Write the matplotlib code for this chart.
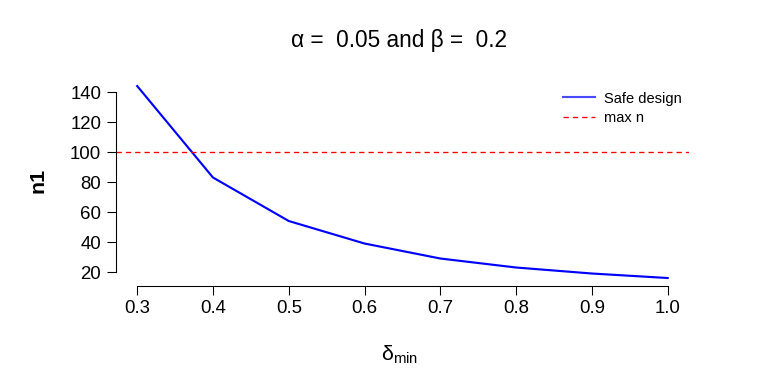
import numpy as np
from matplotlib import pyplot as plt

plt.rcParams['font.family'] = ['Liberation Sans', 'DejaVu Sans']
plt.rcParams['mathtext.fontset'] = 'custom'
plt.rcParams['mathtext.rm'] = 'Liberation Sans'
plt.rcParams['mathtext.it'] = 'Liberation Sans:italic'

# data
delta_min = [0.3, 0.4, 0.5, 0.6, 0.7, 0.8, 0.9, 1.0]
n1 = [144, 83, 54, 39, 29, 23, 19, 16]
max_n = 100
x_ticks = [0.3, 0.4, 0.5, 0.6, 0.7, 0.8, 0.9, 1.0]
y_ticks = [20, 40, 60, 80, 100, 120, 140]

fig = plt.figure(figsize=(8, 4), dpi=96)
ax = fig.add_axes([0.151, 0.256, 0.746, 0.54])

ax.plot(delta_min, n1, color='blue', lw=1.6, label='Safe design')
ax.axhline(max_n, color='red', lw=1, ls=(0, (4, 3)), label='max n')

# R-like padding of 4%
xr = max(delta_min) - min(delta_min)
yr = max(n1) - min(n1)
ax.set_xlim(min(delta_min) - 0.04 * xr, max(delta_min) + 0.04 * xr)
ax.set_ylim(min(n1) - 0.04 * yr, max(n1) + 0.04 * yr)

ax.set_xticks(x_ticks)
ax.set_xticklabels(['%.1f' % v for v in x_ticks])
ax.set_yticks(y_ticks)
for s in ['top', 'right']:
    ax.spines[s].set_visible(False)
ax.spines['bottom'].set_bounds(x_ticks[0], x_ticks[-1])
ax.spines['left'].set_bounds(y_ticks[0], y_ticks[-1])
ax.tick_params(direction='out', length=7, labelsize=14, pad=4)

fig.text(0.52, 0.895, 'α =  0.05 and β =  0.2', fontsize=17, ha='center', va='center')
fig.text(0.52, 0.075, 'δ$_{\\mathrm{min}}$', fontsize=16, ha='center', va='center')
fig.text(0.049, 0.53, 'n1', fontsize=16, fontweight='bold', rotation=90,
         ha='center', va='center')

leg = ax.legend(loc='upper right', frameon=False, fontsize=11, handlelength=2.2,
                handletextpad=0.6, borderaxespad=0.5, labelspacing=0.35,
                bbox_to_anchor=(1.01, 1.0))
leg.get_lines()[0].set_alpha(0.7)

fig.savefig('out.png', dpi=96, facecolor='white')
